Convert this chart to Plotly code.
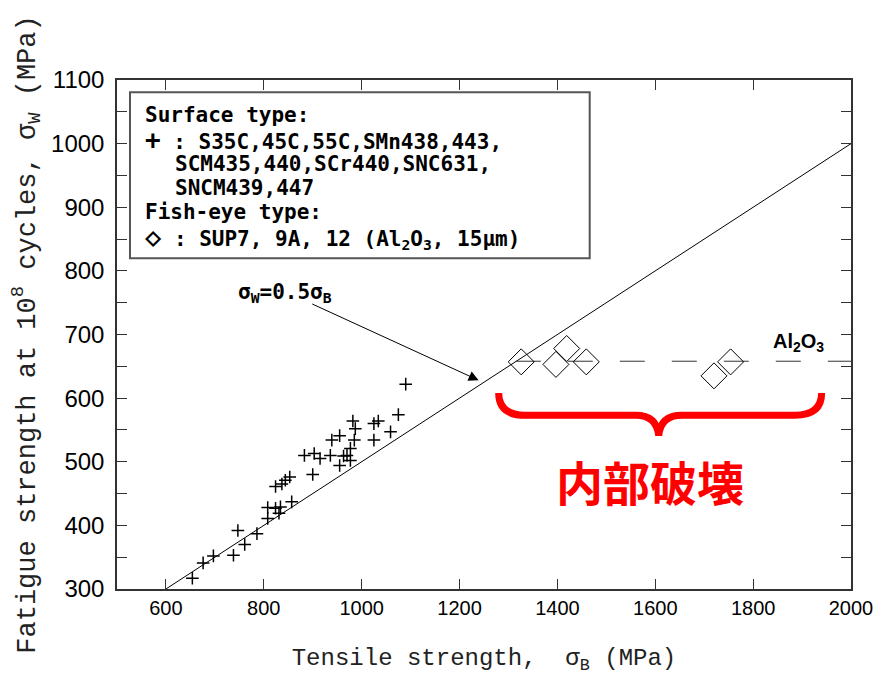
import plotly.graph_objects as go

# ---- data ----
surface_sigma_b = [1090, 1075, 1059, 1025, 1034, 1025, 982, 987, 985, 977, 970, 977, 963, 955,
                   936, 955, 939, 915, 903, 883, 900, 853, 844, 837, 824, 857, 834, 824, 808,
                   831, 808, 747, 786, 761, 738, 697, 676, 654]
surface_sigma_w = [622, 574, 547, 534, 564, 560, 564, 552, 534, 521, 510, 502, 509, 494,
                   510, 541, 534, 505, 513, 510, 480, 476, 471, 465, 461, 437, 429, 427, 428,
                   419, 411, 392, 387, 370, 353, 352, 341, 317]
fisheye_sigma_b = [1326, 1419, 1397, 1459, 1720, 1754]
fisheye_sigma_w = [657, 678, 653, 657, 635, 657]
line_x = [600, 2000]
line_ratio = 0.5
al2o3_level = 658
al2o3_x = [1315, 2000]
x_ticks = [600, 800, 1000, 1200, 1400, 1600, 1800, 2000]

fig = go.Figure()

fig.add_trace(go.Scatter(x=line_x, y=[v * line_ratio for v in line_x], mode="lines",
                         line=dict(color="black", width=1), showlegend=False, hoverinfo="skip"))
fig.add_trace(go.Scatter(x=al2o3_x, y=[al2o3_level, al2o3_level], mode="lines",
                         line=dict(color="#333333", width=1, dash="25px,27px"),
                         showlegend=False, hoverinfo="skip"))
fig.add_trace(go.Scatter(x=surface_sigma_b, y=surface_sigma_w, mode="markers",
                         marker=dict(symbol="cross-thin", size=9,
                                     line=dict(color="black", width=1.5)),
                         showlegend=False))
fig.add_trace(go.Scatter(x=fisheye_sigma_b, y=fisheye_sigma_w, mode="markers",
                         marker=dict(symbol="diamond-open", size=20, color="black",
                                     line=dict(color="black", width=1)),
                         showlegend=False))

axis_line = dict(showline=True, linecolor="#333333", linewidth=1.5, mirror="ticks",
                 ticks="inside", ticklen=10, tickcolor="#333333", tickwidth=1,
                 showgrid=False, zeroline=False, automargin=False)

fig.update_xaxes(range=[500, 2000], tickvals=x_ticks,
                 tickfont=dict(family="Liberation Sans, Arial", size=20, color="black"),
                 title=dict(text="Tensile strength,  σ<sub>B</sub> (MPa)",
                            font=dict(family="Liberation Mono", size=24, color="#222222"),
                            standoff=30),
                 **axis_line)
fig.update_yaxes(range=[300, 1100], dtick=100,
                 minor=dict(dtick=50, ticks="inside", ticklen=10, tickcolor="#333333"),
                 tickfont=dict(family="Liberation Sans, Arial", size=24, color="black"),
                 ticklabelstandoff=6,
                 title=dict(text="Fatigue strength at 10<sup>8</sup> cycles, σ<sub>W</sub> (MPa)",
                            font=dict(family="Liberation Mono", size=27, color="#222222"),
                            standoff=8),
                 **axis_line)

# legend box
fig.add_shape(type="rect", xref="paper", yref="paper", x0=0.0177, x1=0.644, y0=0.650, y1=0.976,
              line=dict(color="#555555", width=2), fillcolor="white", layer="below")

leg_font = dict(family="DejaVu Sans Mono", size=21, color="black", weight="bold")
legend_lines = [
    (0.035, 115, "Surface type:"),
    (0.035, 140, "<span style='font-size:26px'>+</span> : S35C,45C,55C,SMn438,443,"),
    (0.076, 164, "SCM435,440,SCr440,SNC631,"),
    (0.076, 188, "SNCM439,447"),
    (0.035, 212, "Fish-eye type:"),
    (0.035, 237, "<span style='font-size:27px'>◇</span> : SUP7, 9A, 12 (Al<sub>2</sub>O<sub>3</sub>, 15μm)"),
]
for xp, py, txt in legend_lines:
    fig.add_annotation(xref="paper", yref="paper", x=xp, y=(589 - py) / 509, text=txt,
                       showarrow=False, xanchor="left", yanchor="middle", font=leg_font)

# sigma_w = 0.5 sigma_B label and arrow
fig.add_annotation(x=743, y=765, text="σ<sub>W</sub>=0.5σ<sub>B</sub>", showarrow=False,
                   xanchor="left", yanchor="middle",
                   font=dict(family="DejaVu Sans Mono", size=21, color="black", weight="bold"))
fig.add_annotation(x=1239, y=628, ax=896, ay=749, axref="x", ayref="y", text="",
                   showarrow=True, arrowhead=2, arrowsize=2, arrowwidth=1, arrowcolor="black")

# Al2O3 label
fig.add_annotation(x=1892, y=688, text="Al<sub>2</sub>O<sub>3</sub>", showarrow=False,
                   font=dict(family="Liberation Sans, Arial", size=20, color="black", weight="bold"))

# red brace
fig.add_shape(type="path", xref="x", yref="y",
              path="M 1280,608 Q 1280,573 1335,573 L 1560,573 Q 1603,573 1607,541 "
                   "Q 1611,573 1654,573 L 1885,573 Q 1940,573 1940,608",
              line=dict(color="#ff0000", width=7))
fig.add_annotation(x=1590, y=471, text="内部破壊", showarrow=False, yanchor="middle",
                   font=dict(family="Noto Sans CJK JP", size=47, color="#ff0000", weight="bold"))

fig.update_layout(width=883, height=675, margin=dict(l=117, r=32, t=80, b=86),
                  plot_bgcolor="white", paper_bgcolor="white", showlegend=False)

fig.write_html("out.html")
